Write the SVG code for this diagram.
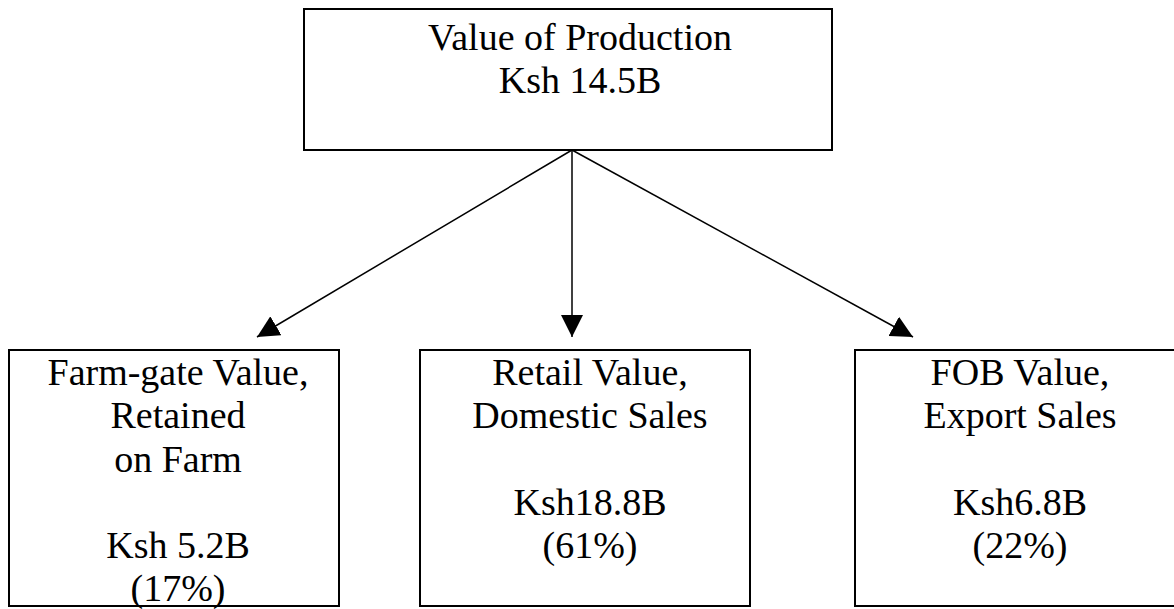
<svg xmlns="http://www.w3.org/2000/svg" width="1174" height="609" viewBox="0 0 1174 609">
<style>
.box{fill:#fff;stroke:#000;stroke-width:2}
.t{font-family:'Liberation Serif','Times New Roman',Times,serif;font-size:38px;fill:#000;text-anchor:middle}
.c{stroke:#000;stroke-width:1.5;fill:none}
</style>
<defs>
<marker id="ah" markerUnits="userSpaceOnUse" markerWidth="22" markerHeight="22" refX="20" refY="10" orient="auto" viewBox="0 0 20 20">
<path d="M0,0 L20,10 L0,20 z" fill="#000"/>
</marker>
</defs>
<rect width="1174" height="609" fill="#fff"/>
<g id="connectors">
<line class="c" x1="572" y1="150" x2="257" y2="337" marker-end="url(#ah)"/>
<line class="c" x1="572" y1="150" x2="572" y2="337" marker-end="url(#ah)"/>
<line class="c" x1="572" y1="150" x2="913" y2="337" marker-end="url(#ah)"/>
</g>
<g id="top">
<rect class="box" x="304" y="9" width="528" height="141"/>
<text class="t" x="580" y="50">Value of Production</text>
<text class="t" x="580" y="93">Ksh 14.5B</text>
</g>
<g id="farmgate">
<rect class="box" x="9" y="350" width="330" height="256"/>
<text class="t" x="178" y="385">Farm-gate Value,</text>
<text class="t" x="178" y="428">Retained</text>
<text class="t" x="178" y="472">on Farm</text>
<text class="t" x="178" y="558">Ksh 5.2B</text>
<text class="t" x="178" y="601">(17%)</text>
</g>
<g id="retail">
<rect class="box" x="420" y="350" width="330" height="256"/>
<text class="t" x="590" y="385">Retail Value,</text>
<text class="t" x="590" y="428">Domestic Sales</text>
<text class="t" x="590" y="515">Ksh18.8B</text>
<text class="t" x="590" y="558">(61%)</text>
</g>
<g id="fob">
<rect class="box" x="855" y="350" width="330" height="256"/>
<text class="t" x="1020" y="385">FOB Value,</text>
<text class="t" x="1020" y="428">Export Sales</text>
<text class="t" x="1020" y="515">Ksh6.8B</text>
<text class="t" x="1020" y="558">(22%)</text>
</g>
</svg>
